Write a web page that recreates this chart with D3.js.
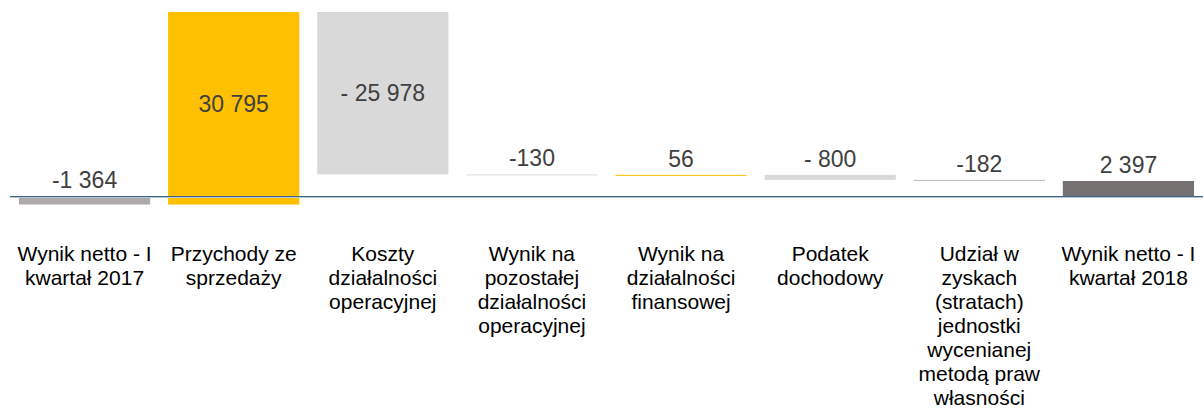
<!DOCTYPE html>
<html>
<head>
<meta charset="utf-8">
<script src="https://cdn.jsdelivr.net/npm/d3@7"></script>
<style>
    body { margin: 0; background: #fff; }
    svg { display: block; font-family: 'Liberation Sans', Arial, sans-serif; }
</style>
</head>
<body>
<svg id="chart"></svg>
<script>
// Chart data.
const categories = [
    'Wynik netto - I\nkwartał 2017',
    'Przychody ze\nsprzedaży',
    'Koszty\ndziałalności\noperacyjnej',
    'Wynik na\npozostałej\ndziałalności\noperacyjnej',
    'Wynik na\ndziałalności\nfinansowej',
    'Podatek\ndochodowy',
    'Udział w\nzyskach\n(stratach)\njednostki\nwycenianej\nmetodą praw\nwłasności',
    'Wynik netto - I\nkwartał 2018',
];
const values = [-1364, 30795, -25978, -130, 56, -800, -182, 2397];
const valueLabels = ['-1 364', '30 795', '- 25 978', '-130', '56', '- 800', '-182', '2 397'];
const kinds = ['start', 'up', 'down', 'down', 'up', 'down', 'share', 'total'];

const colors = {
    start: '#AEAAAA',
    up: '#FFC000',
    down: '#D9D9D9',
    share: '#BFBFBF',
    total: '#767171',
};

const width = 1203;
const height = 408;

// Build waterfall segments.
let running = 0;
const chartData = values.map((v, i) => {
    let from, to;
    if (kinds[i] === 'start' || kinds[i] === 'total') {
        from = 0;
        to = v;
        running = v;
    } else {
        from = running;
        to = running + v;
        running = to;
    }
    return { category: categories[i], value: v, label: valueLabels[i], kind: kinds[i], from, to };
});

const svg = d3.select('#chart').attr('width', width).attr('height', height);

const x = d3
    .scaleBand()
    .domain(categories)
    .range([10, width])
    .paddingInner(0.12)
    .paddingOuter(0.06);

const yMax = d3.max(chartData, d => Math.max(d.from, d.to));
const y = d3.scaleLinear().domain([0, yMax]).range([196, 12]);

// Bars.
svg.append('g')
    .selectAll('rect')
    .data(chartData)
    .join('rect')
    .attr('x', d => x(d.category))
    .attr('width', x.bandwidth())
    .attr('y', d => y(Math.max(d.from, d.to)))
    .attr('height', d => Math.max(1, Math.abs(y(d.from) - y(d.to))))
    .attr('fill', d => colors[d.kind]);

// Axis line.
svg.append('line')
    .attr('x1', 10)
    .attr('x2', width)
    .attr('y1', y(0) + 0.5)
    .attr('y2', y(0) + 0.5)
    .attr('stroke', '#3F6587')
    .attr('stroke-width', 1);
svg.append('line')
    .attr('x1', 10)
    .attr('x2', width)
    .attr('y1', y(0) + 1.5)
    .attr('y2', y(0) + 1.5)
    .attr('stroke', '#B3C5D4')
    .attr('stroke-width', 1);

// Value labels: inside tall bars, above short ones.
svg.append('g')
    .selectAll('text')
    .data(chartData)
    .join('text')
    .attr('x', d => x(d.category) + x.bandwidth() / 2)
    .attr('y', d => {
        const top = y(Math.max(d.from, d.to));
        const bottom = y(Math.max(0, Math.min(d.from, d.to)));
        if (bottom - top > 40) {
            return (top + bottom) / 2 + 8;
        }
        return top - 8;
    })
    .attr('text-anchor', 'middle')
    .attr('font-size', '23px')
    .attr('fill', '#404040')
    .text(d => d.label);

// Category labels.
const catGroup = svg.append('g')
    .selectAll('text')
    .data(chartData)
    .join('text')
    .attr('x', d => x(d.category) + x.bandwidth() / 2)
    .attr('y', 261)
    .attr('text-anchor', 'middle')
    .attr('font-size', '21px')
    .attr('fill', '#000');

catGroup
    .selectAll('tspan')
    .data(d => d.category.split('\n'))
    .join('tspan')
    .attr('x', function () {
        return d3.select(this.parentNode).attr('x');
    })
    .attr('dy', (d, i) => (i === 0 ? 0 : 24))
    .text(d => d);
</script>
</body>
</html>
